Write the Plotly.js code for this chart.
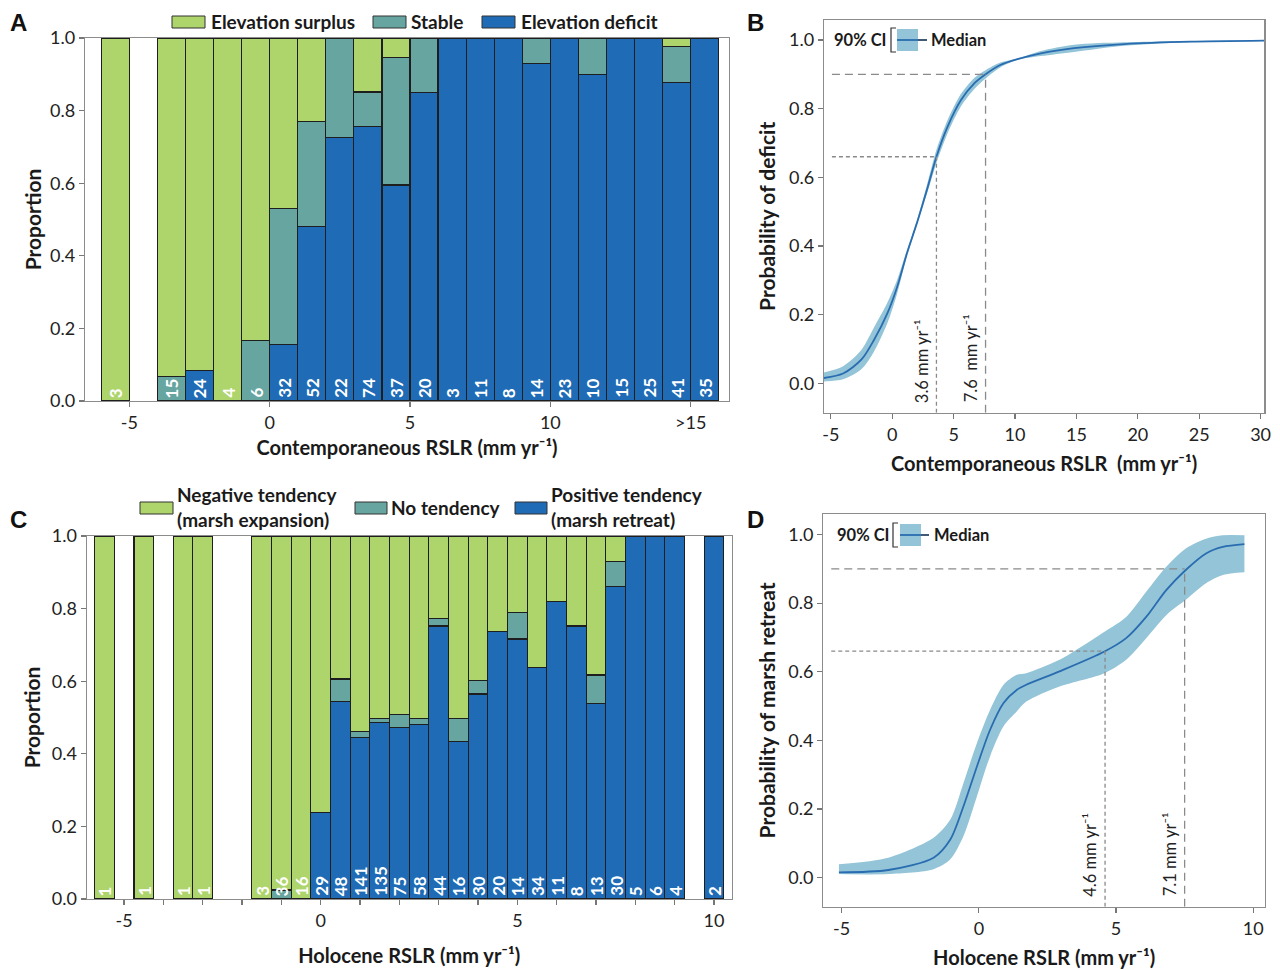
<!DOCTYPE html>
<html>
<head>
<meta charset="utf-8">
<script src="https://cdn.plot.ly/plotly-3.0.1.min.js"></script>
<style>html,body{margin:0;padding:0;background:#fff}#chart{width:1280px;height:970px}</style>
</head>
<body>
<div id="chart"></div>
<script>
// ---------- Panel A data (contemporaneous RSLR, 1 mm/yr bins) ----------
const aBinCenters = [-5.5,-3.5,-2.5,-1.5,-0.5,0.5,1.5,2.5,3.5,4.5,5.5,6.5,7.5,8.5,9.5,10.5,11.5,12.5,13.5,14.5,15.5];
const aCounts     = [3,15,24,4,6,32,52,22,74,37,20,3,11,8,14,23,10,15,25,41,35];
const aDeficit    = [0,0,0.083,0,0,0.156,0.481,0.727,0.757,0.595,0.85,1,1,1,0.929,1,0.9,1,1,0.878,1];
const aStable     = [0,0.067,0,0,0.167,0.375,0.288,0.273,0.094,0.351,0.15,0,0,0,0.071,0,0.1,0,0,0.098,0];
const aSurplus    = [1,0.933,0.917,1,0.833,0.469,0.231,0,0.149,0.054,0,0,0,0,0,0,0,0,0,0.024,0];
const aTickVals   = [-5,0,5,10,15];
const aTickText   = ['-5','0','5','10','>15'];

// ---------- Panel B data (probability of deficit) ----------
const bX      = [-5.57,-4,-2.5,-1.5,-0.4,0.4,1.2,2.0,2.9,3.6,4.5,5.6,6.7,7.6,8.8,10.2,12.1,14.8,18.9,24.3,30.3];
const bMedian = [0.016,0.029,0.07,0.126,0.204,0.281,0.379,0.466,0.573,0.66,0.747,0.825,0.874,0.9,0.927,0.944,0.961,0.976,0.988,0.995,0.998];
const bLower  = [0.006,0.012,0.042,0.092,0.175,0.262,0.371,0.46,0.56,0.642,0.728,0.807,0.858,0.888,0.92,0.942,0.953,0.965,0.983,0.993,0.998];
const bUpper  = [0.032,0.05,0.098,0.162,0.235,0.302,0.389,0.474,0.588,0.68,0.766,0.843,0.89,0.912,0.934,0.946,0.968,0.986,0.993,0.997,0.999];
const bThreshX = [3.6, 7.6];
const bThreshY = [0.66, 0.9];
const bThreshLabels = ['3.6 mm yr⁻¹', '7.6  mm yr⁻¹'];

// ---------- Panel C data (Holocene RSLR, 0.5 mm/yr bins) ----------
const cBinCenters = [-5.5,-4.5,-3.5,-3.0,-1.5,-1.0,-0.5,0,0.5,1.0,1.5,2.0,2.5,3.0,3.5,4.0,4.5,5.0,5.5,6.0,6.5,7.0,7.5,8.0,8.5,9.0,10.0];
const cCounts     = [1,1,1,1,3,36,16,29,48,141,135,75,58,44,16,30,20,14,34,11,8,13,30,5,6,4,2];
const cPositive   = [0,0,0,0,0,0,0,0.238,0.543,0.445,0.487,0.472,0.481,0.752,0.435,0.565,0.737,0.716,0.638,0.819,0.752,0.539,0.860,1,1,1,1];
const cNoTend     = [0,0,0,0,0,0.025,0,0,0.063,0.016,0.011,0.037,0.017,0.021,0.062,0.036,0,0.073,0,0,0,0.078,0.069,0,0,0,0];
const cNegative   = [1,1,1,1,1,0.975,1,0.762,0.394,0.539,0.502,0.491,0.502,0.227,0.503,0.399,0.263,0.211,0.362,0.181,0.248,0.383,0.071,0,0,0,0];
const cTickVals   = [-5,0,5,10];
const cTickText   = ['-5','0','5','10'];

// ---------- Panel D data (probability of marsh retreat) ----------
const dX      = [-5.1,-3.3,-1.65,-1.04,-0.56,-0.07,0.41,0.9,1.38,1.73,2.94,4.58,5.37,6.1,6.83,7.53,8.28,8.89,9.68];
const dMedian = [0.015,0.022,0.058,0.111,0.208,0.324,0.431,0.509,0.547,0.562,0.601,0.659,0.698,0.76,0.838,0.896,0.945,0.964,0.972];
const dUpper  = [0.039,0.058,0.116,0.169,0.276,0.392,0.489,0.562,0.591,0.596,0.635,0.717,0.76,0.833,0.906,0.959,0.988,0.998,0.998];
const dLower  = [0.01,0.01,0.024,0.053,0.121,0.237,0.354,0.441,0.484,0.513,0.557,0.596,0.635,0.698,0.765,0.809,0.858,0.882,0.89];
const dThreshX = [4.6, 7.5];
const dThreshY = [0.66, 0.9];
const dThreshLabels = ['4.6 mm yr⁻¹', '7.1 mm yr⁻¹'];

// ---------- styling ----------
const W = 1280, H = 970;
const PX = v => v / W;
const PY = v => 1 - v / H;
const GREEN = '#AED46C', TEAL = '#66A5A0', BLUE = '#1F6BB5';
const BAND = '#93C4D7', MED = '#2A6CB0';
const OUTLINE = '#1e1e1e';
const FAM = 'Lato, "Liberation Sans", sans-serif';
const tickFont = {family: FAM, size: 18, color: '#222'};
const titleFont = {family: FAM, size: 21, color: '#1a1a1a', weight: 700};
const xTitleFont = {family: FAM, size: 20, color: '#1a1a1a', weight: 700};
const legFont = {family: FAM, size: 19, color: '#1a1a1a', weight: 700};
const ciFont = {family: FAM, size: 16.5, color: '#1a1a1a', weight: 700};

function barTrace(x, y, color, name, xa, ya, w) {
  return {type: 'bar', x: x, y: y, name: name, xaxis: xa, yaxis: ya, width: w,
    marker: {color: color, line: {color: OUTLINE, width: 1.2}}, showlegend: false, hoverinfo: 'x+y+name'};
}
function bandTraces(x, lo, hi, med, xa, ya) {
  return [
    {type: 'scatter', mode: 'lines', x: x, y: lo, xaxis: xa, yaxis: ya, line: {width: 0, shape: 'spline', smoothing: 0.8}, showlegend: false, hoverinfo: 'skip'},
    {type: 'scatter', mode: 'lines', x: x, y: hi, xaxis: xa, yaxis: ya, fill: 'tonexty', fillcolor: BAND, line: {width: 0, shape: 'spline', smoothing: 0.8}, showlegend: false, hoverinfo: 'skip', name: '90% CI'},
    {type: 'scatter', mode: 'lines', x: x, y: med, xaxis: xa, yaxis: ya, line: {color: MED, width: 1.8, shape: 'spline', smoothing: 0.8}, showlegend: false, name: 'Median'}
  ];
}

const data = [
  barTrace(aBinCenters, aDeficit, BLUE, 'Elevation deficit', 'x', 'y', 1),
  barTrace(aBinCenters, aStable, TEAL, 'Stable', 'x', 'y', 1),
  barTrace(aBinCenters, aSurplus, GREEN, 'Elevation surplus', 'x', 'y', 1),
  ...bandTraces(bX, bLower, bUpper, bMedian, 'x2', 'y2'),
  barTrace(cBinCenters, cPositive, BLUE, 'Positive tendency', 'x3', 'y3', 0.5),
  barTrace(cBinCenters, cNoTend, TEAL, 'No tendency', 'x3', 'y3', 0.5),
  barTrace(cBinCenters, cNegative, GREEN, 'Negative tendency', 'x3', 'y3', 0.5),
  ...bandTraces(dX, dLower, dUpper, dMedian, 'x4', 'y4')
];

const axBase = {showline: true, linecolor: '#8c8c8c', linewidth: 1.2, mirror: true, ticks: 'outside',
  ticklen: 5, tickcolor: '#777', tickwidth: 1.2, showgrid: false, zeroline: false, tickfont: tickFont, fixedrange: true};
const propY = {tickvals: [0,0.2,0.4,0.6,0.8,1.0], ticktext: ['0.0','0.2','0.4','0.6','0.8','1.0']};

const layout = {
  width: W, height: H, margin: {l: 0, r: 0, t: 0, b: 0}, paper_bgcolor: '#fff', plot_bgcolor: '#fff',
  barmode: 'stack', bargap: 0, showlegend: false,
  font: {family: FAM, color: '#222'},
  xaxis: Object.assign({}, axBase, {domain: [PX(85), PX(729)], range: [-6.578, 16.364], anchor: 'y',
    tickvals: aTickVals, ticktext: aTickText,
    title: {text: 'Contemporaneous RSLR (mm yr⁻¹)', font: xTitleFont, standoff: 4}}),
  yaxis: Object.assign({}, axBase, propY, {domain: [PY(401), PY(38)], range: [0, 1], anchor: 'x',
    title: {text: 'Proportion', font: titleFont, standoff: 5}}),
  xaxis2: Object.assign({}, axBase, {domain: [PX(824), PX(1264.3)], range: [-5.557, 30.3], anchor: 'y2',
    tickvals: [-5,0,5,10,15,20,25,30], ticktext: ['-5','0','5','10','15','20','25','30'],
    title: {text: 'Contemporaneous RSLR  (mm yr⁻¹)', font: xTitleFont, standoff: 8}}),
  yaxis2: Object.assign({}, axBase, propY, {domain: [PY(412.7), PY(20)], range: [-0.085, 1.058], anchor: 'x2',
    title: {text: 'Probability of deficit', font: titleFont, standoff: 9}}),
  xaxis3: Object.assign({}, axBase, {domain: [PX(86.7), PX(731.7)], range: [-5.95, 10.45], anchor: 'y3',
    tickvals: cTickVals, ticktext: cTickText,
    minor: {dtick: 1, tick0: 0, ticks: 'outside', ticklen: 5, tickcolor: '#777', tickwidth: 1.2, showgrid: false},
    title: {text: 'Holocene RSLR (mm yr⁻¹)', font: xTitleFont, standoff: 10}}),
  yaxis3: Object.assign({}, axBase, propY, {domain: [PY(899), PY(536)], range: [0, 1], anchor: 'x3',
    title: {text: 'Proportion', font: titleFont, standoff: 5}}),
  xaxis4: Object.assign({}, axBase, {domain: [PX(823.3), PX(1265)], range: [-5.67, 10.43], anchor: 'y4',
    tickvals: [-5,0,5,10], ticktext: ['-5','0','5','10'],
    title: {text: 'Holocene RSLR (mm yr⁻¹)', font: xTitleFont, standoff: 8}}),
  yaxis4: Object.assign({}, axBase, propY, {domain: [PY(906.7), PY(514)], range: [-0.085, 1.06], anchor: 'x4',
    title: {text: 'Probability of marsh retreat', font: titleFont, standoff: 9}}),
  shapes: [],
  annotations: []
};

// count labels inside bars
function countLabels(xs, counts, xa, ya) {
  xs.forEach((x, i) => {
    layout.annotations.push({x: x, y: 0, xref: xa, yref: ya, text: String(counts[i]), textangle: -90,
      showarrow: false, xanchor: 'center', yanchor: 'bottom', yshift: 1,
      font: {family: FAM, size: 17, color: '#fff', weight: 700}});
  });
}
countLabels(aBinCenters, aCounts, 'x', 'y');
countLabels(cBinCenters, cCounts, 'x3', 'y3');

// threshold dashed lines and labels
function thresholdShapes(tx, ty, labels, xa, ya) {
  const dashes = ['4px,3px', '8px,5px'];
  const xr = layout['xaxis' + xa.slice(1)].range;
  const yr = layout['yaxis' + ya.slice(1)].range;
  tx.forEach((x, i) => {
    layout.shapes.push({type: 'line', xref: xa, yref: ya, x0: xr[0] + (xr[1] - xr[0]) * 0.018, x1: x, y0: ty[i], y1: ty[i],
      line: {color: '#8a8a8a', width: 1.3, dash: dashes[i]}});
    layout.shapes.push({type: 'line', xref: xa, yref: ya, x0: x, x1: x, y0: yr[0], y1: ty[i],
      line: {color: '#8a8a8a', width: 1.3, dash: dashes[i]}});
    layout.annotations.push({x: x, y: 0, xref: xa, yref: ya + ' domain', text: labels[i], textangle: -90,
      showarrow: false, xanchor: 'center', yanchor: 'bottom', xshift: -15, yshift: 8,
      font: {family: FAM, size: 16.5, color: '#222'}});
  });
}
thresholdShapes(bThreshX, bThreshY, bThreshLabels, 'x2', 'y2');
thresholdShapes(dThreshX, dThreshY, dThreshLabels, 'x4', 'y4');

// custom legends (paper coordinates)
function swatch(x0, x1, y0, y1, color) {
  layout.shapes.push({type: 'rect', xref: 'paper', yref: 'paper', x0: PX(x0), x1: PX(x1), y0: PY(y1), y1: PY(y0),
    fillcolor: color, line: {color: '#333', width: 1}});
}
function label(x, y, text, font, xanchor) {
  layout.annotations.push({xref: 'paper', yref: 'paper', x: PX(x), y: PY(y), text: text, showarrow: false,
    xanchor: xanchor || 'left', yanchor: 'middle', align: 'left', font: font});
}
// A legend
swatch(172, 205, 16, 28, GREEN); label(209, 21, 'Elevation surplus', legFont);
swatch(373, 406, 16, 28, TEAL);  label(409, 21, 'Stable', legFont);
swatch(482, 515, 16, 28, BLUE);  label(519, 21, 'Elevation deficit', legFont);
// C legend
swatch(140, 173, 502, 514, GREEN); label(175, 507, 'Negative tendency<br>(marsh expansion)', legFont);
swatch(355, 387, 502, 514, TEAL);  label(389, 507, 'No tendency', legFont);
swatch(515, 547, 502, 514, BLUE);  label(549, 507, 'Positive tendency<br>(marsh retreat)', legFont);
// B / D CI legends
function ciLegend(textX, cy, brX, swX0, swX1, lineX1, medX) {
  label(textX, cy, '90% CI', ciFont);
  layout.shapes.push({type: 'path', xref: 'paper', yref: 'paper',
    path: 'M' + PX(brX + 5) + ',' + PY(cy - 12) + ' L' + PX(brX) + ',' + PY(cy - 12) + ' L' + PX(brX) + ',' + PY(cy + 12) + ' L' + PX(brX + 5) + ',' + PY(cy + 12),
    line: {color: '#333', width: 1.2}});
  layout.shapes.push({type: 'rect', xref: 'paper', yref: 'paper', x0: PX(swX0), x1: PX(swX1), y0: PY(cy + 11), y1: PY(cy - 11),
    fillcolor: BAND, line: {width: 0}});
  layout.shapes.push({type: 'line', xref: 'paper', yref: 'paper', x0: PX(swX0), x1: PX(lineX1), y0: PY(cy), y1: PY(cy),
    line: {color: MED, width: 1.8}});
  layout.shapes.push({type: 'line', xref: 'paper', yref: 'paper', x0: PX(swX1), x1: PX(lineX1), y0: PY(cy), y1: PY(cy),
    line: {color: '#444', width: 1.2}});
  label(medX, cy, 'Median', ciFont);
}
ciLegend(832, 40, 891, 897, 918, 927, 929);
ciLegend(835, 535, 893, 900, 921, 929, 932);

// panel letters
const letterFont = {family: '"Liberation Sans", Arial, sans-serif', size: 24, color: '#111', weight: 700};
label(18.5, 22, 'A', letterFont, 'center');
label(755.5, 22, 'B', letterFont, 'center');
label(18.5, 519, 'C', letterFont, 'center');
label(755.5, 519, 'D', letterFont, 'center');

// fine position nudges for axis titles (pixels), appended to any existing transform
const titleNudges = {xtitle: [0, 2], x2title: [0, 5], x3title: [0, 9], x4title: [0, 5],
  ytitle: [3, 0], y2title: [2, 0], y3title: [0, 0], y4title: [2, 0]};

Plotly.newPlot('chart', data, layout, {displayModeBar: false, staticPlot: true}).then(gd => {
  Object.keys(titleNudges).forEach(k => {
    const g = gd.querySelector('g.g-' + k);
    if (g) {
      const prev = g.getAttribute('transform') || '';
      g.setAttribute('transform', (prev + ' translate(' + titleNudges[k][0] + ',' + titleNudges[k][1] + ')').trim());
    }
  });
});
</script>
</body>
</html>
